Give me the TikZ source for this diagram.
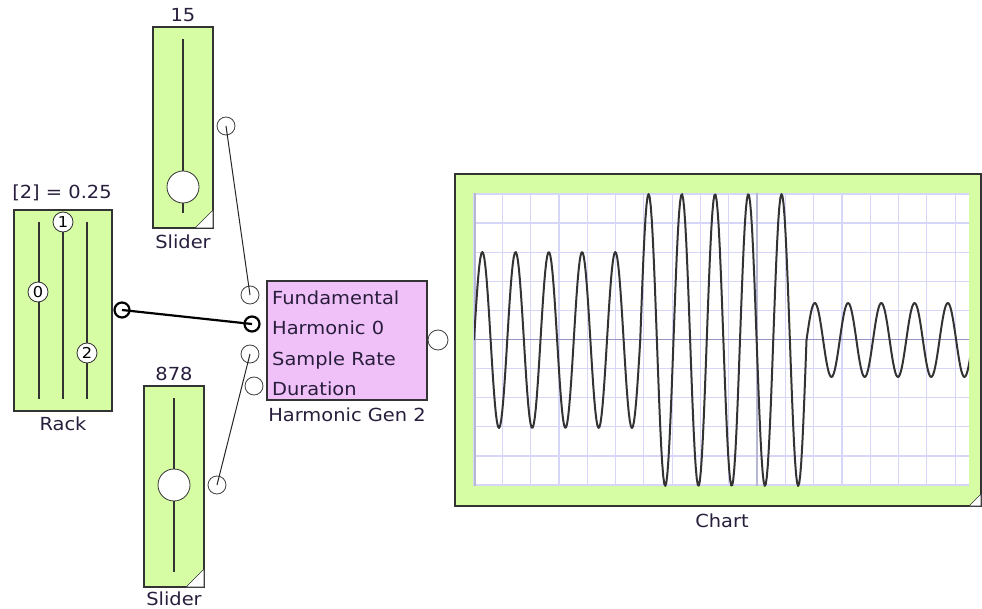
\documentclass[tikz,border=0pt]{standalone}
\usepackage{fontspec}
\setmainfont[FakeStretch=1.08]{DejaVu Sans}
\definecolor{blockgreen}{RGB}{214,252,164}
\definecolor{blockpink}{RGB}{240,192,248}
\definecolor{gridblue}{RGB}{214,214,248}
\definecolor{axisblue}{RGB}{150,150,195}
\definecolor{labelink}{RGB}{40,30,60}
\tikzset{
  block/.style={draw=black!80, line width=1.2pt},
  port/.style={circle, draw=black!75, fill=white, inner sep=0pt, minimum size=18pt, line width=0.8pt},
  boldport/.style={port, draw=black, line width=2.2pt, minimum size=15pt},
  knob/.style={circle, draw=black!80, fill=white, inner sep=0pt, minimum size=20pt, line width=0.8pt, font=\fontsize{15}{15}\selectfont},
  lbl/.style={text=labelink, font=\fontsize{18}{21}\selectfont, inner sep=0pt, anchor=base},
  track/.style={line width=1.8pt, black!80},
  wire/.style={line width=1pt, black!85}
}
\begin{document}
\begin{tikzpicture}[x=1pt, y=-1pt]
  \useasboundingbox (0,0) rectangle (982,609);
  % rack
  \draw[block, fill=blockgreen] (14,210) rectangle (112,411);
  \foreach \tx in {39,63,87}
    \draw[track] (\tx,222) -- (\tx,399);
  \node[knob] (knob0) at (38,292) {0};
  \node[knob] (knob1) at (63,222) {1};
  \node[knob] (knob2) at (87,353) {2};
  \node[lbl] (racktop) at (62,199) {[2] = 0.25};
  \node[lbl] (rackname) at (63,430) {Rack};
  \node[boldport] (rackout) at (122,310) {};
  % sliders
  \foreach \nm/\sx/\sy/\ky/\val/\ny in {upper/153/27/187/15/249, lower/144/386/485/878/605} {
    \draw[block, fill=blockgreen] (\sx,\sy) rectangle ++(60,201);
    \filldraw[fill=white, draw=black!80, line width=0.6pt] (\sx+60,\sy+201) -- ++(-18,0) -- ++(18,-18) -- cycle;
    \draw[track] (\sx+30,\sy+12) -- (\sx+30,\sy+186);
    \node[knob, minimum size=32pt] (\nm-knob) at (\sx+30,\ky) {};
    \node[lbl] (\nm-val) at (\sx+30,\sy-5) {\val};
    \node[lbl] (\nm-name) at (\sx+30,\ny) {Slider};
    \node[port] (\nm-out) at (\sx+73,\sy+99) {};
  }
  % harmonic generator
  \draw[block, fill=blockpink] (267,281) rectangle (427,400);
  \foreach \txt [count=\k] in {Fundamental, Harmonic 0, Sample Rate, Duration}
    \node[lbl, anchor=base west] (gen-txt\k) at (272,275+30*\k) {\txt};
  \node[lbl] (genname) at (347,421) {Harmonic Gen 2};
  \node[port] (gen-in1) at (250,295) {};
  \node[boldport] (gen-in2) at (252,324) {};
  \node[port] (gen-in3) at (250,354) {};
  \node[port] (gen-in4) at (254,386) {};
  \node[port, minimum size=20pt] (gen-out) at (438,340) {};
  % chart
  \draw[block, fill=blockgreen] (455,174) rectangle (981,506);
  \fill[white] (474,193) rectangle (969,486);
  \foreach \k in {0,...,17}
    \draw[gridblue, line width=1.2pt] (474+28.3*\k,193) -- (474+28.3*\k,486);
  \foreach \k in {0,...,10}
    \draw[gridblue, line width=1.2pt] (474,194+29.1*\k) -- (969,194+29.1*\k);
  \draw[axisblue, line width=1pt] (474,340) -- (969,340);
  \draw[axisblue!70, line width=1.2pt] (475,193) -- (475,486);
  \draw[axisblue!70, line width=1.2pt] (757,193) -- (757,486);
  \begin{scope}
    \clip (474,192) rectangle (969,488);
    \foreach \amp [count=\k from 0] in {88,146,37}
      \draw[line width=2pt, black!80, line join=round]
        plot[domain=474+166.25*\k:640.25+166.25*\k, samples=160]
        (\x, {340-\amp*sin((\x-474)/33.25*360)});
  \end{scope}
  \filldraw[fill=white, draw=black!80, line width=0.6pt] (981,506) -- ++(-12,0) -- ++(12,-12) -- cycle;
  \node[lbl] (chartname) at (722,527) {Chart};
  % wires
  \draw[wire] (upper-out.center) -- (gen-in1.center);
  \draw[wire, line width=2.2pt, black] (rackout.center) -- (gen-in2.center);
  \draw[wire] (lower-out.center) -- (gen-in3.center);
\end{tikzpicture}
\end{document}
